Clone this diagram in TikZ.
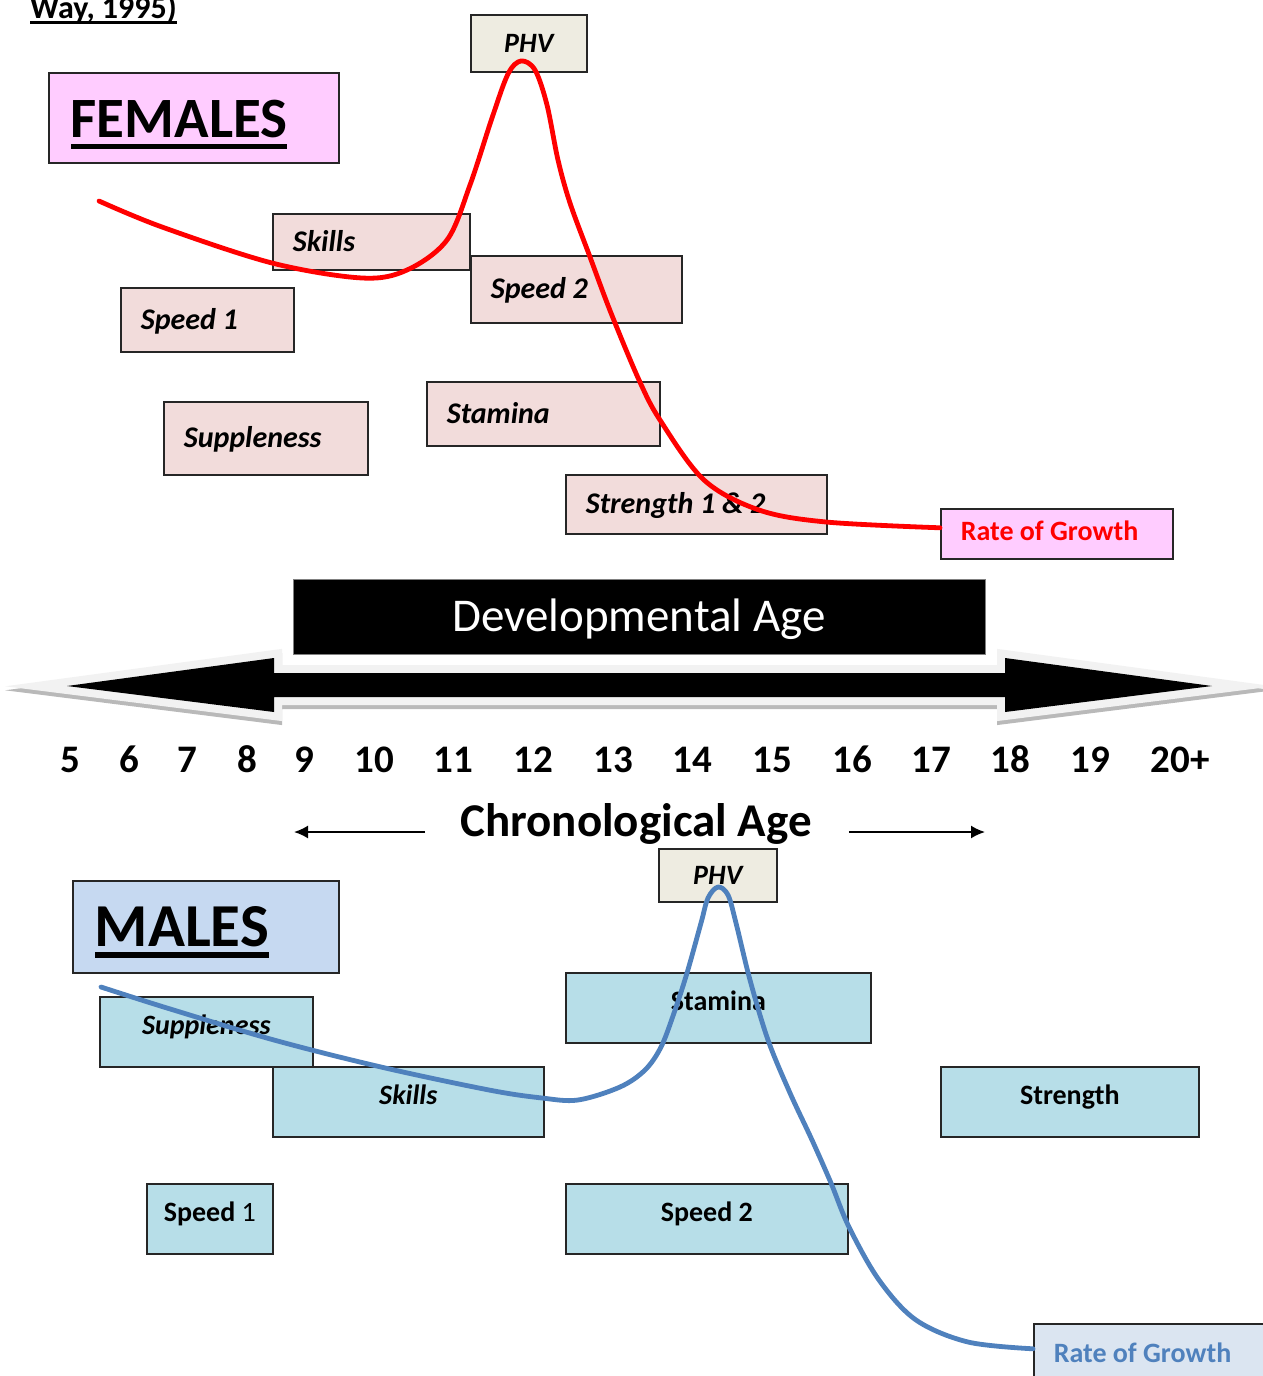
\documentclass[tikz,border=0pt]{standalone}
\usepackage{fontspec}
\setmainfont{Carlito}
\usepackage{xcolor}
\usepackage{tikz}
\usetikzlibrary{arrows.meta}
\definecolor{femfill}{HTML}{FFCCFF}
\definecolor{femboxfill}{HTML}{F2DCDB}
\definecolor{phvfill}{HTML}{EEECE1}
\definecolor{malefill}{HTML}{C6D9F1}
\definecolor{maleboxfill}{HTML}{B7DEE8}
\definecolor{malerate}{HTML}{DBE5F1}
\definecolor{maleblue}{HTML}{4F81BD}
\definecolor{arrowrim}{HTML}{F2F2F2}
\newcommand{\fs}[1]{\fontsize{#1}{#1}\selectfont}
\newcommand{\ulword}[1]{\setbox0\hbox{#1}\rlap{\rule[-0.19em]{\wd0}{0.09em}}\box0}

\begin{document}
\begin{tikzpicture}[
    x=1pt, y=-1pt,
    box/.style={rectangle, draw=black!85, line width=1.6pt, anchor=north west, inner sep=0pt},
    fbox/.style={box, fill=femboxfill, font=\fs{30}\bfseries\itshape, align=flush left, inner xsep=20pt, text height=19pt, text depth=0pt},
    mbox/.style={box, fill=maleboxfill, font=\fs{28}\bfseries, align=center, text height=19.6pt, text depth=14pt},
    phv/.style={box, fill=phvfill, font=\fs{28}\bfseries\itshape, align=center, text height=18pt, text depth=0pt},
    sex/.style={box, align=flush left, inner xsep=22pt, text depth=0pt},
    rate/.style={box, font=\fs{28}\bfseries, align=flush left, inner xsep=20pt, text height=18pt, text depth=0pt},
    age/.style={anchor=base, font=\fs{39}\bfseries, inner sep=0pt},
    growth/.style={line width=4.8pt, line cap=round, line join=round},
    line/.style={draw, -{Latex[length=14pt,width=13pt]}, line width=1.8pt},
]
\useasboundingbox (0,0) rectangle (1263,1376);

\node [anchor=base west, font=\fs{32}\bfseries, inner sep=0pt] (source) at (30,18) {\ulword{Way, 1995)}};

\node [sex, fill=femfill, font=\fs{57}\bfseries, text height=40pt, text width=246pt, minimum height=90pt] (females) at (48,72) {\ulword{FEMALES}};
\node [phv, minimum width=116pt, minimum height=57pt] (fPHV) at (470,14) {PHV};
\node [fbox, text width=157pt, minimum height=56pt] (fSkills) at (272,213) {Skills};
\node [fbox, text width=171pt, minimum height=67pt] (fSpeedTwo) at (470,255) {Speed 2};
\node [fbox, text width=133pt, minimum height=64pt] (fSpeedOne) at (120,287) {Speed 1};
\node [fbox, text width=164pt, minimum height=73pt] (fSupple) at (163,401) {Suppleness};
\node [fbox, text width=193pt, minimum height=64pt] (fStamina) at (426,381) {Stamina};
\node [fbox, text width=221pt, minimum height=59pt] (fStrength) at (565,474) {Strength 1 \& 2};
\node [rate, fill=femfill, text=red, text width=192pt, minimum height=50pt, text height=14pt] (fRate) at (940,508) {Rate of Growth};

\path [fill=black, line join=miter, miter limit=20,
    preaction={draw=gray!55, line width=16pt, transform canvas={yshift=-4pt}},
    preaction={draw=arrowrim, line width=16pt}]
    (67,686) -- (274,658) -- (274,673) -- (1005,673) -- (1005,658) -- (1212,686)
    -- (1005,712) -- (1005,697) -- (274,697) -- (274,712) -- cycle;
\node [draw=gray, fill=black, text=white, font=\fs{47}, minimum width=692pt, minimum height=75pt,
    inner sep=0pt, text height=28pt, text depth=0pt] (devage) at (639,617) {Developmental Age};

\foreach \x/\n [count=\i] in {70/5, 129/6, 187/7, 247/8, 304/9, 374/10, 453/11, 533/12,
    613/13, 692/14, 772/15, 852/16, 931/17, 1010/18, 1090/19, 1180/20+}
    \node [age] (age\i) at (\x,772) {\n};

\node [anchor=base, font=\fs{47}\bfseries, inner sep=0pt] (chrono) at (636,836) {Chronological Age};
\coordinate (chL) at (294,832);
\coordinate (chR) at (985,832);
\path [line, shorten <=35pt] (chrono.west |- chL) -- (chL);
\path [line, shorten <=37pt] (chrono.east |- chR) -- (chR);

\node [sex, fill=malefill, font=\fs{61}\bfseries, text height=39pt, text width=222pt, minimum height=92pt] (males) at (72,880) {\ulword{MALES}};
\node [phv, minimum width=118pt, minimum height=53pt] (mPHV) at (658,848) {PHV};
\node [mbox, font=\fs{28}\bfseries\itshape, minimum width=213pt, minimum height=70pt] (mSupple) at (99,996) {Suppleness};
\node [mbox, font=\fs{28}\bfseries\itshape, minimum width=271pt, minimum height=70pt] (mSkills) at (272,1066) {Skills};
\node [mbox, minimum width=305pt, minimum height=70pt] (mStamina) at (565,972) {Stamina};
\node [mbox, minimum width=258pt, minimum height=70pt] (mStrength) at (940,1066) {Strength};
\node [mbox, minimum width=126pt, minimum height=70pt] (mSpeedOne) at (146,1183) {Speed {\mdseries 1}};
\node [mbox, minimum width=282pt, minimum height=70pt] (mSpeedTwo) at (565,1183) {Speed 2};
\node [rate, fill=malerate, text=maleblue, text width=200pt, minimum height=60pt] (mRate) at (1033,1323) {Rate of Growth};

\coordinate (fStart) at (99,201);
\coordinate (mStart) at (101,987);
\draw [growth, red] plot [smooth, tension=0.55] coordinates {(fStart) (162,227) (272,263) (362,278)
    (407,270) (447,240) (470,185) (492,118) (508,74) (521,61) (535,70) (547,105) (558,160)
    (570,203) (590,257) (611,313) (639,380) (660,420) (704,480) (759,510) (826,522) ([yshift=6pt]fRate.west)};
\draw [growth, maleblue] plot [smooth, tension=0.55] coordinates {(mStart) (167,1008) (274,1040)
    (381,1067) (489,1090) (542,1098) (578,1100) (620,1087) (645,1070) (661,1047) (674,1013)
    (687,973) (701,923) (708,898) (718,887) (728,895) (736,923) (750,980) (768,1040) (790,1093)
    (812,1140) (831,1183) (849,1227) (879,1280) (916,1320) (968,1342) ([yshift=5pt]mRate.west)};
\end{tikzpicture}
\end{document}
